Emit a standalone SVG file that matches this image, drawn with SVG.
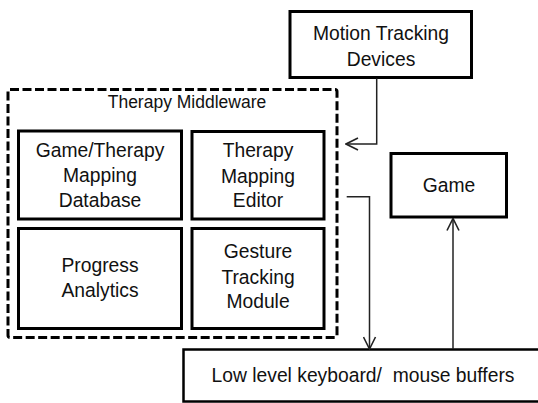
<svg xmlns="http://www.w3.org/2000/svg" width="538" height="403" viewBox="0 0 538 403">
<defs>
<style>
.box{fill:#fff;stroke:#000;stroke-width:3}
.dash{fill:none;stroke:#000;stroke-width:3;stroke-dasharray:9 3.5}
.t{font-family:"Liberation Sans",Arial,sans-serif;font-size:19.3px;fill:#111;text-anchor:middle}
.ts{font-family:"Liberation Sans",Arial,sans-serif;font-size:17.5px;fill:#111;text-anchor:middle}
.c{fill:none;stroke:#222;stroke-width:1.5}
</style>
<marker id="arr" viewBox="0 0 14 14" refX="13" refY="7" markerWidth="14" markerHeight="14" markerUnits="userSpaceOnUse" orient="auto">
<path d="M1,1 L13,7 L1,13" fill="none" stroke="#222" stroke-width="1.6"/>
</marker>
</defs>
<rect width="538" height="403" fill="#fff"/>
<g id="middleware">
<rect class="dash" x="8" y="89.5" width="329" height="248" rx="2"/>
<text class="ts" x="187" y="108">Therapy Middleware</text>
</g>
<g id="motion">
<rect class="box" x="290" y="11.5" width="181.5" height="66"/>
<text class="t" x="381" y="39.5">Motion Tracking</text>
<text class="t" x="381" y="65.5">Devices</text>
</g>
<g id="gtmdb">
<rect class="box" x="18.5" y="131" width="163" height="88"/>
<text class="t" x="100" y="157">Game/Therapy</text>
<text class="t" x="100" y="182">Mapping</text>
<text class="t" x="100" y="207">Database</text>
</g>
<g id="editor">
<rect class="box" x="192" y="131.5" width="132" height="87.5"/>
<text class="t" x="258" y="157">Therapy</text>
<text class="t" x="258" y="183">Mapping</text>
<text class="t" x="258" y="207">Editor</text>
</g>
<g id="progress">
<rect class="box" x="18.5" y="228.5" width="163" height="100"/>
<text class="t" x="100" y="272">Progress</text>
<text class="t" x="100" y="297">Analytics</text>
</g>
<g id="gesture">
<rect class="box" x="192" y="228.5" width="132" height="100"/>
<text class="t" x="258" y="258">Gesture</text>
<text class="t" x="258" y="284">Tracking</text>
<text class="t" x="258" y="308">Module</text>
</g>
<g id="game">
<rect class="box" x="391" y="153.5" width="115.5" height="63.5"/>
<text class="t" x="449" y="192">Game</text>
</g>
<g id="buffers">
<rect class="box" x="183.5" y="349.5" width="362" height="52" style="stroke-width:2.5"/>
<text class="t" x="363" y="382" style="white-space:pre">Low level keyboard/  mouse buffers</text>
</g>
<g id="connectors">
<path class="c" d="M376.7,78.5 V144 H346" marker-end="url(#arr)"/>
<path class="c" d="M346.7,196.7 H369.5 V349" marker-end="url(#arr)"/>
<path class="c" d="M453,349 V218.5" marker-end="url(#arr)"/>
</g>
</svg>
